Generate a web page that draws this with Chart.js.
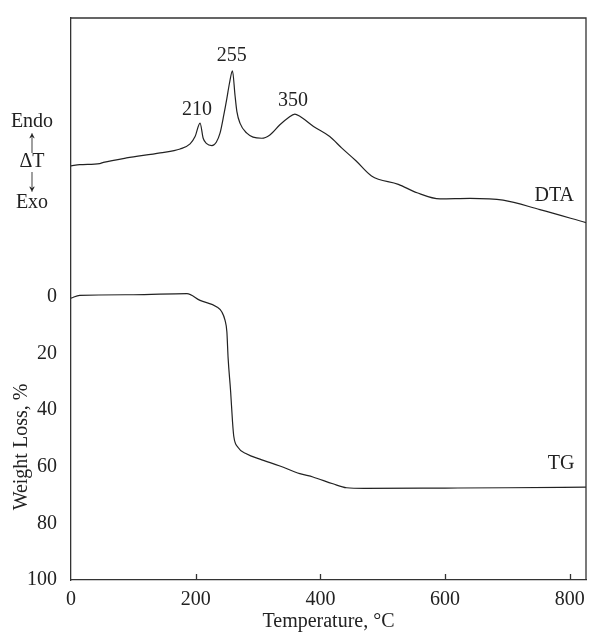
<!DOCTYPE html>
<html>
<head>
<meta charset="utf-8">
<script src="https://cdn.jsdelivr.net/npm/chart.js@4.4.1/dist/chart.umd.min.js"></script>
<style>
  html, body { margin: 0; padding: 0; background: #fff; }
  #wrap { width: 591px; height: 637px; }
</style>
</head>
<body>
<div id="wrap"><canvas id="c" width="591" height="637"></canvas></div>
<script>
// TG curve: temperature (°C) vs weight loss (%)
const tgTemp = [0, 14, 100, 186, 207, 234, 242, 247, 250, 252, 256, 259, 261, 268, 282, 303, 335, 367, 388, 420, 442, 470, 600, 700, 826];
const tgLoss = [0.4, -0.6, -0.8, -1.2, 1.2, 3.5, 5.3, 8.2, 12.3, 21.6, 33.3, 43.9, 49.1, 53.2, 55.5, 57.3, 59.7, 62.4, 63.6, 66.0, 67.4, 67.6, 67.5, 67.4, 67.2];

// DTA curve: temperature (°C) vs ΔT (arbitrary units)
const dtaTemp = [0, 14, 46, 52, 89, 143, 175, 191, 199, 207, 212, 217, 226, 233, 239, 245, 250, 254, 259, 263, 266, 271, 282, 292, 306, 319, 335, 348, 359, 367, 389, 415, 434, 457, 482, 525, 555, 592, 640, 693, 752, 826];
const dtaVal = [73.7, 73.9, 74.1, 74.3, 75.1, 76.0, 76.7, 77.6, 78.9, 81.3, 78.6, 77.7, 77.3, 77.9, 79.5, 82.7, 85.7, 88.3, 90.6, 86.3, 83.4, 81.3, 79.5, 78.8, 78.6, 79.2, 81.0, 82.2, 82.9, 82.5, 80.7, 78.9, 76.9, 74.6, 71.9, 70.4, 68.9, 67.8, 67.9, 67.6, 65.9, 63.6];

// peak labels on the DTA curve
const peakText = ["210", "255", "350"];
const peakTemp = [202, 258, 356];
const peakLabelVal = [83.6, 93.3, 85.3];

const xTicks = [0, 200, 400, 600, 800];
const yTicks = [0, 20, 40, 60, 80, 100];

const FONT = "'Liberation Serif', 'DejaVu Serif', serif";
const INK = "#222";

const extras = {
  id: "extras",
  afterDraw(chart) {
    const { ctx, chartArea: a, scales } = chart;
    ctx.save();
    ctx.strokeStyle = "#333";
    ctx.lineWidth = 1.3;
    // top and right frame
    ctx.beginPath();
    ctx.moveTo(a.left, a.top);
    ctx.lineTo(a.right, a.top);
    ctx.lineTo(a.right, a.bottom);
    ctx.stroke();
    // inward ticks on x axis
    ctx.beginPath();
    xTicks.forEach(v => {
      if (v === 0) return;
      const px = Math.round(scales.x.getPixelForValue(v)) + 0.5;
      ctx.moveTo(px, a.bottom);
      ctx.lineTo(px, a.bottom - 6);
    });
    ctx.stroke();

    ctx.fillStyle = INK;
    ctx.font = "20px " + FONT;
    ctx.textAlign = "center";
    ctx.textBaseline = "middle";
    // peak labels
    peakText.forEach((t, i) => {
      ctx.fillText(t, scales.x.getPixelForValue(peakTemp[i]), scales.yd.getPixelForValue(peakLabelVal[i]));
    });
    // curve names
    ctx.fillText("DTA", scales.x.getPixelForValue(775), scales.yd.getPixelForValue(68.4));
    ctx.fillText("TG", scales.x.getPixelForValue(786), scales.y.getPixelForValue(59));

    // Endo / ΔT / Exo marker
    const lx = 32;
    ctx.fillText("Endo", lx, 122);
    ctx.fillText("ΔT", lx, 162);
    ctx.fillText("Exo", lx, 203);
    // arrows, stretched to match the tall serif arrows
    [["↑", 143], ["↓", 182]].forEach(([s, yy]) => {
      ctx.save();
      ctx.translate(lx, yy);
      ctx.scale(1, 1.7);
      ctx.fillText(s, 0, 0);
      ctx.restore();
    });

    // y axis title, centred on the TG part
    ctx.translate(22, scales.y.getPixelForValue(53));
    ctx.rotate(-Math.PI / 2);
    ctx.fillText("Weight Loss, %", 0, 0);
    ctx.restore();
  }
};

new Chart(document.getElementById("c"), {
  type: "line",
  data: {
    datasets: [
      {
        label: "DTA",
        data: dtaTemp.map((t, i) => ({ x: t, y: dtaVal[i] })),
        yAxisID: "yd",
        borderColor: INK,
        borderWidth: 1.2,
        pointRadius: 0,
        cubicInterpolationMode: "monotone"
      },
      {
        label: "TG",
        data: tgTemp.map((t, i) => ({ x: t, y: tgLoss[i] })),
        yAxisID: "y",
        borderColor: INK,
        borderWidth: 1.2,
        pointRadius: 0,
        cubicInterpolationMode: "monotone"
      }
    ]
  },
  options: {
    responsive: false,
    animation: false,
    layout: { padding: { top: 14, right: 5, left: 0, bottom: 0 } },
    plugins: { legend: { display: false }, tooltip: { enabled: false } },
    scales: {
      x: {
        type: "linear",
        min: 0,
        max: 826,
        afterBuildTicks: s => { s.ticks = xTicks.map(v => ({ value: v })); },
        afterFit: s => { s.height = 57; },
        grid: { display: false },
        border: { display: true, color: "#333", width: 1.3 },
        ticks: { color: INK, font: { family: FONT, size: 20 }, padding: 0, maxRotation: 0 },
        title: { display: true, text: "Temperature, °C", color: INK, font: { family: FONT, size: 20 }, padding: { top: 0, bottom: 3 } }
      },
      y: {
        type: "linear",
        reverse: true,
        min: -98.6,
        max: 100,
        afterBuildTicks: s => { s.ticks = yTicks.map(v => ({ value: v })); },
        afterFit: s => { s.width = 71; },
        grid: { display: false },
        border: { display: true, color: "#333", width: 1.3 },
        ticks: { color: INK, font: { family: FONT, size: 20 }, padding: 6 }
      },
      yd: {
        type: "linear",
        display: false,
        min: 0,
        max: 100
      }
    }
  },
  plugins: [extras]
});
</script>
</body>
</html>
